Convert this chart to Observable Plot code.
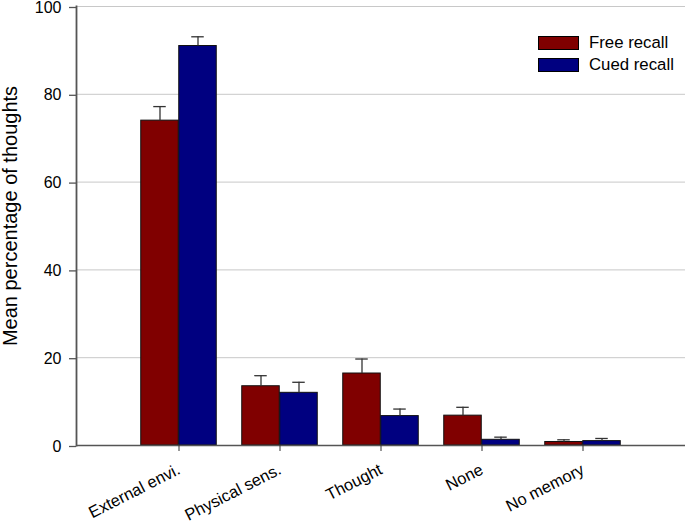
<!DOCTYPE html>
<html>
<head>
<meta charset="utf-8">
<script src="https://cdn.jsdelivr.net/npm/d3@7"></script>
<script src="https://cdn.jsdelivr.net/npm/@observablehq/plot@0.6"></script>
<style>
  html, body { margin: 0; padding: 0; background: #fff; }
  #wrap { position: relative; width: 685px; height: 521px; font-family: "Liberation Sans", Arial, sans-serif; }
  #legend { position: absolute; left: 538px; top: 32px; font-size: 16.8px; color: #000; }
  .row { display: flex; align-items: center; height: 22px; }
  .sw { width: 39px; height: 12px; border: 1px solid #000; margin-right: 10px; }
</style>
</head>
<body>
<div id="wrap"><div id="legend"></div></div>
<script>
const categories = ["External envi.", "Physical sens.", "Thought", "None", "No memory"];
const series = ["Free recall", "Cued recall"];
const colors = ["#800000", "#000080"];
const freeRecall = [74.0, 13.5, 16.4, 6.8, 0.8];
const freeErr = [3.2, 2.4, 3.3, 1.9, 0.5];
const cuedRecall = [91.0, 12.0, 6.7, 1.3, 1.0];
const cuedErr = [2.1, 2.4, 1.6, 0.6, 0.6];
const yTicks = [0, 20, 40, 60, 80, 100];
const gridTicks = [20, 40, 60, 80, 100];
const yLabel = "Mean percentage of thoughts";

const free = categories.map((c, i) => ({cat: c, v: freeRecall[i], e: freeErr[i]}));
const cued = categories.map((c, i) => ({cat: c, v: cuedRecall[i], e: cuedErr[i]}));

const W = 685, H = 521, ML = 76, MR = 0;
const step = (W - ML - MR) / (categories.length + 1);
const barW = 38;
const half = step / 2;
const capHalf = 6.5;

const chart = Plot.plot({
  width: W,
  height: H,
  marginLeft: ML,
  marginRight: MR,
  marginTop: 6,
  marginBottom: 76,
  style: {fontFamily: "'Liberation Sans', Arial, sans-serif", fontSize: "16px", background: "#fff", overflow: "visible"},
  x: {domain: categories, paddingInner: 0, paddingOuter: 0.5, label: null},
  y: {domain: [0, 100], label: null},
  marks: [
    Plot.ruleY(gridTicks, {stroke: "#c8c8c8", strokeWidth: 1}),
    Plot.barY(free, {x: "cat", y: "v", fill: colors[0], stroke: "#111", strokeWidth: 1,
      insetLeft: half - barW, insetRight: half}),
    Plot.barY(cued, {x: "cat", y: "v", fill: colors[1], stroke: "#111", strokeWidth: 1,
      insetLeft: half, insetRight: half - barW}),
    Plot.ruleX(free, {x: "cat", y1: "v", y2: d => d.v + d.e, dx: -barW / 2, stroke: "#333", strokeWidth: 1.3}),
    Plot.ruleX(cued, {x: "cat", y1: "v", y2: d => d.v + d.e, dx: barW / 2, stroke: "#333", strokeWidth: 1.3}),
    Plot.tickY(free, {x: "cat", y: d => d.v + d.e, dx: -barW / 2, insetLeft: half - capHalf, insetRight: half - capHalf, stroke: "#333", strokeWidth: 1.3}),
    Plot.tickY(cued, {x: "cat", y: d => d.v + d.e, dx: barW / 2, insetLeft: half - capHalf, insetRight: half - capHalf, stroke: "#333", strokeWidth: 1.3}),
    Plot.ruleY([0], {stroke: "#555", strokeWidth: 1.5}),
    Plot.frame({anchor: "left", stroke: "#555", strokeWidth: 1.8}),
    Plot.axisY({ticks: yTicks, tickSize: 7, tickPadding: 8, stroke: "#555", strokeWidth: 1.3, fill: "#000", fontSize: 16, dy: 1, label: null}),
    Plot.axisX({tickSize: 6, tickRotate: -27, tickPadding: 17, stroke: "#333", fill: "#000", fontSize: 16.5, label: null}),
    Plot.text([yLabel], {frameAnchor: "left", dx: -66, dy: -10, rotate: -90, fontSize: 20, fill: "#000", textAnchor: "middle"})
  ]
});

const wrap = document.getElementById("wrap");
wrap.insertBefore(chart, wrap.firstChild);
const legend = document.getElementById("legend");
series.forEach((s, i) => {
  const row = document.createElement("div");
  row.className = "row";
  const sw = document.createElement("div");
  sw.className = "sw";
  sw.style.background = colors[i];
  const t = document.createElement("span");
  t.textContent = s;
  row.appendChild(sw);
  row.appendChild(t);
  legend.appendChild(row);
});
</script>
</body>
</html>
